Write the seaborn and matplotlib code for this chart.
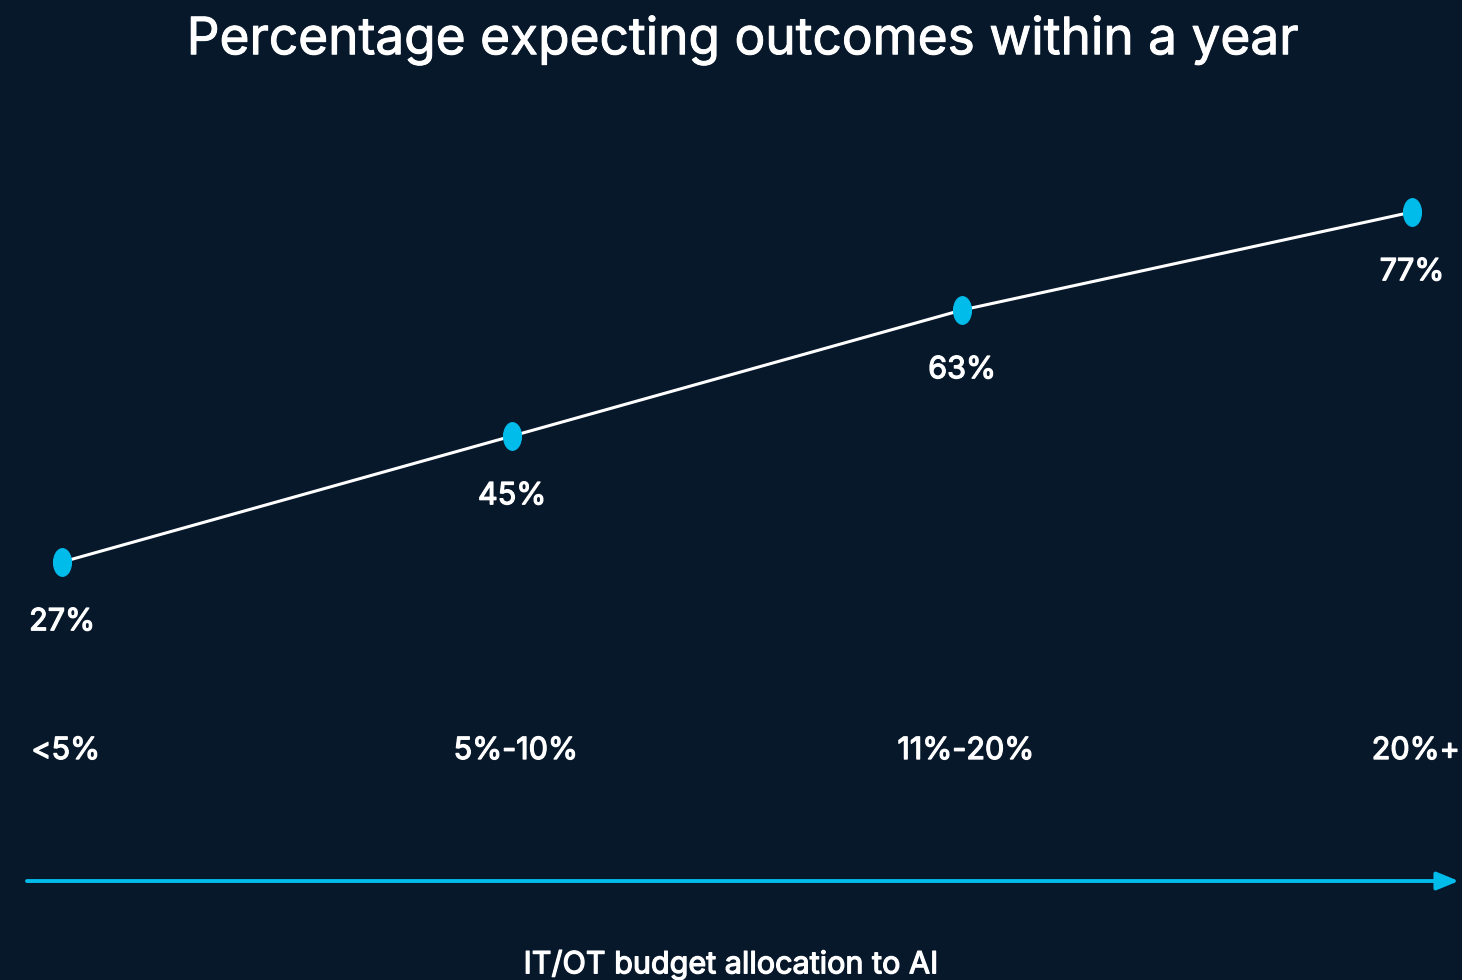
import numpy as np
import pandas as pd
import matplotlib.pyplot as plt
import matplotlib.patheffects as pe
import seaborn as sns
from matplotlib.path import Path
from matplotlib.transforms import Affine2D

# Data
categories = ['<5%', '5%-10%', '11%-20%', '20%+']
values = [27, 45, 63, 77]

df = pd.DataFrame({'pos': np.arange(len(categories)), 'value': values})

bg = '#08182b'
blue = '#00bceb'

sns.set_theme(style='white')
plt.rcParams['font.family'] = ['Inter', 'DejaVu Sans']

# thin stroke to make the text look a bit heavier (medium weight)
bold = [pe.withStroke(linewidth=0.9, foreground='white')]

fig = plt.figure(figsize=(14.62, 9.8), dpi=100, facecolor=bg)
ax = fig.add_axes([0, 0, 1, 1])
ax.set_facecolor(bg)

# tall ellipse marker
ellipse = Path.unit_circle().transformed(Affine2D().scale(0.65, 1.0))

sns.lineplot(data=df, x='pos', y='value', ax=ax, color='white', linewidth=2.2,
             marker=ellipse, markersize=20, markerfacecolor=blue,
             markeredgecolor=blue, zorder=3)

for x, v in zip(df['pos'], df['value']):
    ax.text(x, v - 8.6, f'{v}%', color='white', fontsize=22,
            ha='center', va='center', path_effects=bold)

for x, c in zip(df['pos'], categories):
    ax.text(x + 0.008, 0.0, c, color='white', fontsize=22,
            ha='center', va='center', path_effects=bold)

ax.set_xlim(-0.1378, 3.111)
ax.set_ylim(-32.71, 107.29)

# axis arrow
ax.annotate('', xy=(3.104, -18.57), xytext=(-0.0778, -18.57),
            arrowprops=dict(arrowstyle='-|>,head_length=1.1,head_width=0.45',
                            color=blue, lw=2.8, shrinkA=0, shrinkB=0))

fig.text(0.508, 0.959, 'Percentage expecting outcomes within a year',
         color='white', fontsize=37, ha='center', va='center',
         path_effects=[pe.withStroke(linewidth=0.7, foreground='white')])
fig.text(0.5, 0.016, 'IT/OT budget allocation to AI', color='white',
         fontsize=22, ha='center', va='center', path_effects=bold)

ax.set_xlabel('')
ax.set_ylabel('')
ax.set_xticks([])
ax.set_yticks([])
for s in ax.spines.values():
    s.set_visible(False)

fig.savefig('out.png', dpi=100, facecolor=bg)
